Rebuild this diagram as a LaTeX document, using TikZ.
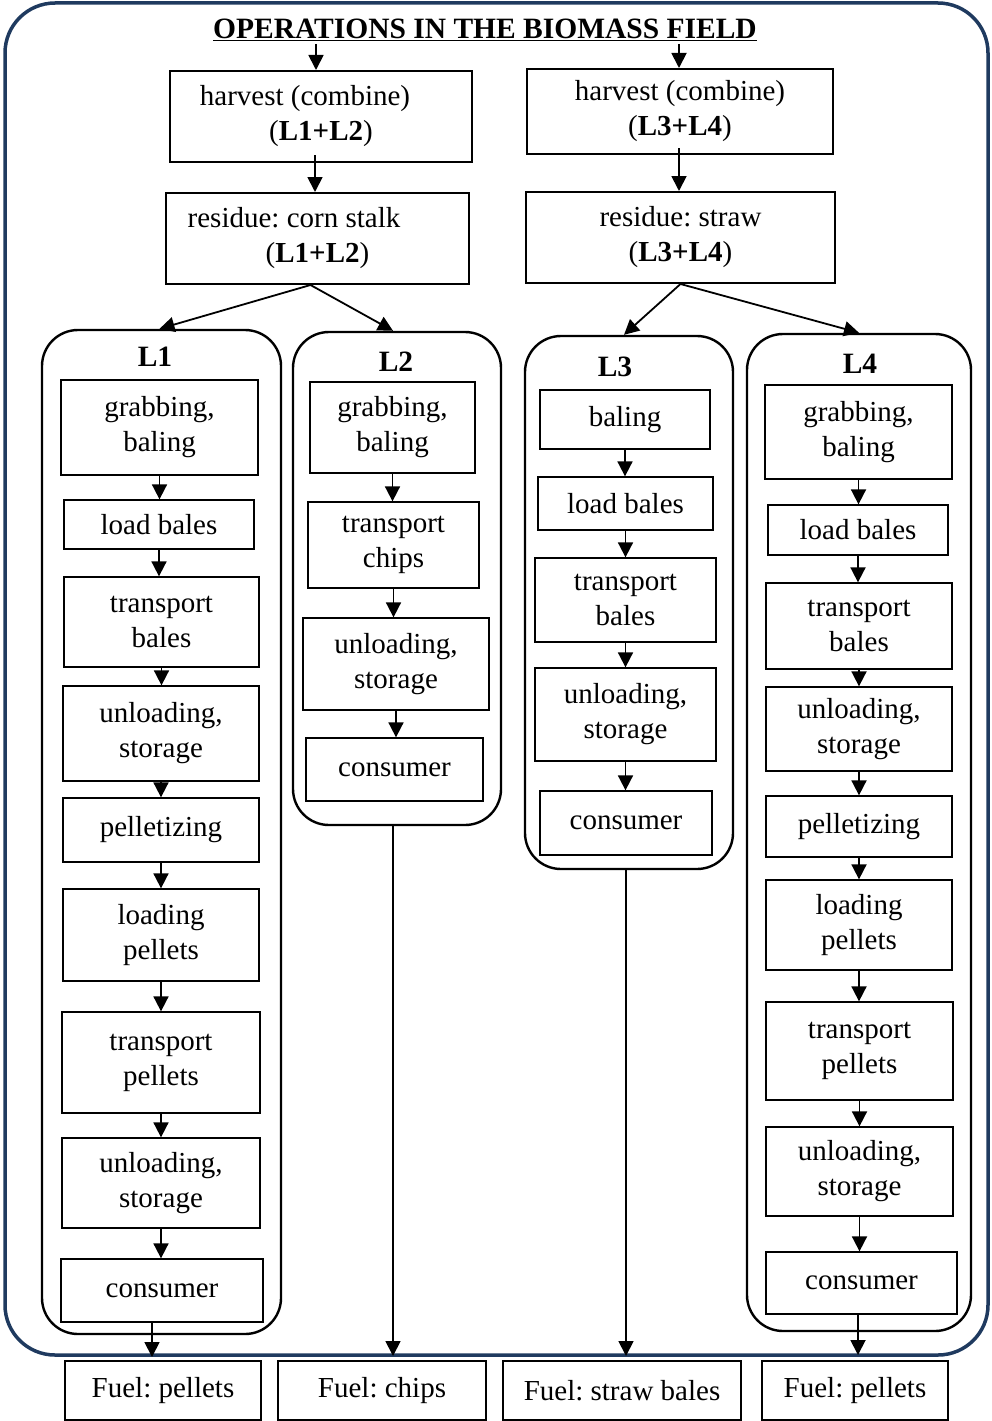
\documentclass[tikz,border=0pt]{standalone}
\usepackage{fontspec}
\setmainfont{Liberation Serif}
\usetikzlibrary{arrows.meta}
\definecolor{frame}{HTML}{1F3A5F}
\frenchspacing
\tikzset{
  every node/.style={font=\fontsize{29}{35}\selectfont},
  box/.style={draw, line width=1.3pt, rectangle, align=center, inner sep=0pt},
  bbox/.style={draw, line width=2pt, rectangle, align=center, inner sep=0pt},
  lane/.style={draw, line width=2.4pt, rounded corners=36pt, rectangle, inner sep=0pt},
  lab/.style={font=\fontsize{29.5}{35}\selectfont\bfseries},
  arr/.style={line width=1.8pt, -{Triangle[length=15pt,width=15pt]}},
}
\newcommand{\bx}[6]{\node[#1, minimum width=#4pt, minimum height=#5pt] (#2) at (#3) {#6};}
\begin{document}
\begin{tikzpicture}[x=1pt,y=-1pt]
\frenchspacing
\useasboundingbox (0,0) rectangle (992,1421);
% outer frame
\draw[frame, line width=3.5pt, rounded corners=50pt] (5,3) rectangle (988,1355);
% title
\node[lab] (title) at (485,30) {\underline{OPERATIONS IN THE BIOMASS FIELD}};
\coordinate (t1) at (316,44);
\coordinate (t2) at (679,44);
% top boxes
\bx{bbox}{h1}{321,116.5}{302}{91}{harvest (combine)\hspace*{32pt}\\(\textbf{L1+L2})}
\bx{bbox}{h2}{680,111.5}{306}{85}{harvest (combine)\\(\textbf{L3+L4})}
\bx{bbox}{r1}{317.5,238.5}{303}{91}{residue: corn stalk\hspace*{47pt}\\(\textbf{L1+L2})}
\bx{bbox}{r2}{680.5,237.5}{309}{91}{residue: straw\\(\textbf{L3+L4})}
\draw[arr] (t1) -- (t1 |- h1.north);
\draw[arr] (t2) -- (t2 |- h2.north);
\draw[arr] ([yshift=8pt]h1.south -| 315,0) -- (315,0 |- r1.north);
\draw[arr] ([yshift=7pt]h2.south -| 679,0) -- (679,0 |- r2.north);
% lanes
\node[lane, minimum width=239pt, minimum height=1004pt] (L1) at (161.5,832) {};
\node[lane, minimum width=208pt, minimum height=493pt] (L2) at (397,578.5) {};
\node[lane, minimum width=208pt, minimum height=533pt] (L3) at (629,602.5) {};
\node[lane, minimum width=224pt, minimum height=997pt] (L4) at (859,832.5) {};
\node[lab] (l1) at (155,357) {L1};
\node[lab] (l2) at (396,362) {L2};
\node[lab] (l3) at (615,367) {L3};
\node[lab] (l4) at (860,364) {L4};
\draw[arr] ([xshift=-7pt]r1.south) -- ([xshift=-2pt]L1.north);
\draw[arr] ([xshift=-7pt]r1.south) -- ([xshift=-4pt]L2.north);
\draw[arr] (r2.south) -- ([xshift=-5pt]L3.north);
\draw[arr] (r2.south) -- (L4.north);
% L1
\bx{box}{a1}{159.5,427.5}{197}{95}{grabbing,\\baling}
\bx{box}{a2}{159,524.5}{190}{49}{load bales}
\bx{box}{a3}{161.5,622}{195}{90}{transport\\bales}
\bx{box}{a4}{161,733.5}{196}{95}{unloading,\\storage}
\bx{box}{a5}{161,830}{196}{64}{pelletizing}
\bx{box}{a6}{161,935}{196}{92}{loading\\pellets}
\bx{box}{a7}{161,1062.5}{198}{101}{transport\\pellets}
\bx{box}{a8}{161,1183}{198}{90}{unloading,\\storage}
\bx{box}{a9}{162,1290.5}{202}{63}{consumer}
\foreach \p/\q in {a1/a2,a2/a3,a3/a4,a4/a5,a5/a6,a6/a7,a7/a8,a8/a9}
  \draw[arr] (\p.south) -- (\p.south |- \q.north);
% L2
\bx{box}{b1}{392.5,427.5}{165}{91}{grabbing,\\baling}
\bx{box}{b2}{393.5,545}{171}{86}{transport\\chips}
\bx{box}{b3}{396,664}{186}{92}{unloading,\\storage}
\bx{box}{b4}{394.5,769.5}{177}{63}{consumer}
\foreach \p/\q in {b1/b2,b2/b3,b3/b4}
  \draw[arr] (\p.south) -- (\p.south |- \q.north);
% L3
\bx{box}{c1}{625,419.5}{170}{59}{baling}
\bx{box}{c2}{625.5,503.5}{175}{53}{load bales}
\bx{box}{c3}{625.5,600}{181}{84}{transport\\bales}
\bx{box}{c4}{625.5,714.5}{181}{93}{unloading,\\storage}
\bx{box}{c5}{626,823}{172}{64}{consumer}
\foreach \p/\q in {c1/c2,c2/c3,c3/c4,c4/c5}
  \draw[arr] (\p.south) -- (\p.south |- \q.north);
% L4
\bx{box}{d1}{858.5,432}{187}{94}{grabbing,\\baling}
\bx{box}{d2}{858,530}{180}{50}{load bales}
\bx{box}{d3}{859,626}{186}{86}{transport\\bales}
\bx{box}{d4}{859,729}{186}{84}{unloading,\\storage}
\bx{box}{d5}{859,826.5}{186}{61}{pelletizing}
\bx{box}{d6}{859,925}{186}{90}{loading\\pellets}
\bx{box}{d7}{859.5,1051}{187}{98}{transport\\pellets}
\bx{box}{d8}{859.5,1171.5}{187}{89}{unloading,\\storage}
\bx{box}{d9}{861.5,1283}{191}{62}{consumer}
\foreach \p/\q in {d1/d2,d2/d3,d3/d4,d4/d5,d5/d6,d6/d7,d7/d8,d8/d9}
  \draw[arr] (\p.south) -- (\p.south |- \q.north);
% fuel boxes
\bx{box}{f1}{163,1390.5}{196}{59}{Fuel: pellets}
\bx{box}{f2}{382,1390.5}{208}{59}{Fuel: chips}
\bx{box}{f3}{622,1390.5}{238}{59}{Fuel: straw bales}
\bx{box}{f4}{855,1390.5}{186}{59}{Fuel: pellets}
\coordinate (e1) at (152,1357);
\coordinate (e2) at (393,1356);
\coordinate (e3) at (626,1356);
\coordinate (e4) at (858,1355);
\draw[arr] (e1 |- a9.south) -- (e1);
\draw[arr] (e2 |- L2.south) -- (e2);
\draw[arr] (e3 |- L3.south) -- (e3);
\draw[arr] (e4 |- d9.south) -- (e4);
\end{tikzpicture}
\end{document}
